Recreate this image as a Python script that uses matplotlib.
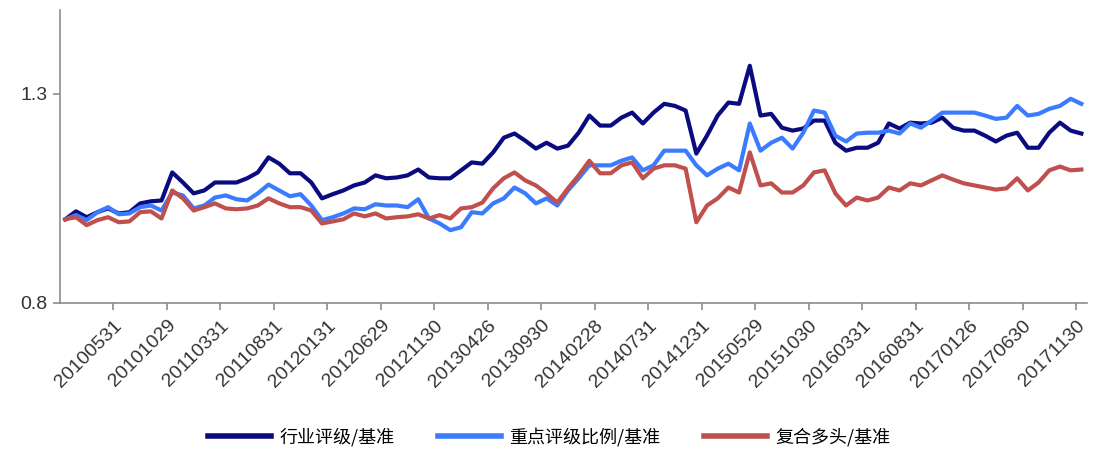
import matplotlib
matplotlib.use("Agg")
import matplotlib.pyplot as plt
import numpy as np

# monthly series, 2010-01 .. 2017-12
industry = [1.000, 1.019, 1.005, 1.017, 1.026, 1.014, 1.017, 1.038, 1.043, 1.045,
            1.112, 1.088, 1.062, 1.069, 1.088, 1.088, 1.088, 1.098, 1.112, 1.148,
            1.133, 1.110, 1.110, 1.088, 1.050, 1.060, 1.069, 1.081, 1.088, 1.105,
            1.098, 1.100, 1.105, 1.119, 1.100, 1.098, 1.098, 1.117, 1.136, 1.133,
            1.160, 1.195, 1.205, 1.188, 1.169, 1.183, 1.169, 1.176, 1.207, 1.248,
            1.224, 1.224, 1.243, 1.255, 1.229, 1.255, 1.276, 1.271, 1.260, 1.157,
            1.200, 1.248, 1.279, 1.276, 1.367, 1.248, 1.252, 1.219, 1.212, 1.217,
            1.236, 1.236, 1.183, 1.164, 1.171, 1.171, 1.183, 1.229, 1.217, 1.231,
            1.229, 1.231, 1.243, 1.219, 1.212, 1.212, 1.200, 1.186, 1.200, 1.207,
            1.171, 1.171, 1.207, 1.231, 1.212, 1.205]

key_ratio = [1.000, 1.010, 0.998, 1.017, 1.029, 1.012, 1.014, 1.029, 1.033, 1.021,
             1.064, 1.057, 1.026, 1.033, 1.052, 1.057, 1.048, 1.045, 1.062, 1.083,
             1.069, 1.055, 1.060, 1.033, 0.998, 1.005, 1.014, 1.026, 1.024, 1.036,
             1.033, 1.033, 1.029, 1.048, 1.002, 0.990, 0.974, 0.981, 1.017, 1.014,
             1.038, 1.050, 1.076, 1.062, 1.038, 1.050, 1.033, 1.069, 1.098, 1.129,
             1.129, 1.129, 1.140, 1.148, 1.117, 1.129, 1.164, 1.164, 1.164, 1.129,
             1.105, 1.121, 1.133, 1.117, 1.229, 1.164, 1.183, 1.195, 1.169, 1.207,
             1.260, 1.255, 1.200, 1.186, 1.205, 1.207, 1.207, 1.212, 1.205, 1.229,
             1.219, 1.236, 1.255, 1.255, 1.255, 1.255, 1.248, 1.240, 1.243, 1.271,
             1.248, 1.252, 1.264, 1.271, 1.288, 1.276]

composite = [1.000, 1.005, 0.986, 0.998, 1.005, 0.993, 0.995, 1.017, 1.019, 1.002,
             1.069, 1.050, 1.021, 1.029, 1.038, 1.026, 1.024, 1.026, 1.033, 1.050,
             1.038, 1.029, 1.029, 1.021, 0.990, 0.995, 1.000, 1.014, 1.007, 1.014,
             1.002, 1.005, 1.007, 1.012, 1.002, 1.010, 1.002, 1.026, 1.029, 1.040,
             1.074, 1.098, 1.112, 1.093, 1.081, 1.062, 1.040, 1.074, 1.105, 1.140,
             1.110, 1.110, 1.129, 1.136, 1.098, 1.121, 1.129, 1.129, 1.121, 0.993,
             1.033, 1.050, 1.076, 1.064, 1.160, 1.081, 1.086, 1.064, 1.064, 1.081,
             1.112, 1.117, 1.062, 1.033, 1.052, 1.045, 1.052, 1.076, 1.069, 1.086,
             1.081, 1.093, 1.105, 1.095, 1.086, 1.081, 1.076, 1.071, 1.074, 1.098,
             1.069, 1.088, 1.117, 1.126, 1.117, 1.119]

tick_labels = ["20100531", "20101029", "20110331", "20110831", "20120131",
               "20120629", "20121130", "20130426", "20130930", "20140228",
               "20140731", "20141231", "20150529", "20151030", "20160331",
               "20160831", "20170126", "20170630", "20171130"]

names = ["行业评级/基准", "重点评级比例/基准", "复合多头/基准"]
colors = ["#0B0B80", "#3B7BFF", "#C0504D"]

plt.rcParams["font.family"] = ["Liberation Sans", "DejaVu Sans"]

fig = plt.figure(figsize=(10.98, 4.59), dpi=100)
ax = fig.add_axes([0.0546, 0.3399, 0.9351, 0.6381])

x = np.arange(len(industry))
for series, name, c in zip([industry, key_ratio, composite], names, colors):
    ax.plot(x, series, color=c, lw=3, label=name, solid_joinstyle="round")

ax.set_xlim(-0.5, len(industry) - 0.5)
ax.set_ylim(0.8, 1.5)
ax.set_yticks([0.8, 1.3])
ax.set_yticklabels(["0.8", "1.3"])

tick_pos = np.arange(len(tick_labels)) * 5 + 4.5
ax.set_xticks(tick_pos)
ax.set_xticklabels(tick_labels, rotation=45, ha="right", va="top",
                   rotation_mode="anchor")

for s in ["top", "right"]:
    ax.spines[s].set_visible(False)
for s in ["left", "bottom"]:
    ax.spines[s].set_color("#8C8C8C")
    ax.spines[s].set_linewidth(1.2)

ax.tick_params(axis="both", colors="#8C8C8C", labelcolor="#333333",
               labelsize=14, length=5, width=1.2)
ax.tick_params(axis="x", pad=5)
ax.tick_params(axis="y", pad=4)

leg = fig.legend(loc="center", bbox_to_anchor=(0.5, 0.048), ncol=3,
                 frameon=False, handlelength=3.5, handletextpad=0.45,
                 columnspacing=2.4,
                 prop={"family": ["Noto Sans CJK SC", "DejaVu Sans"], "size": 13})
for line in leg.get_lines():
    line.set_linewidth(4)

fig.savefig("out.png", dpi=100)
